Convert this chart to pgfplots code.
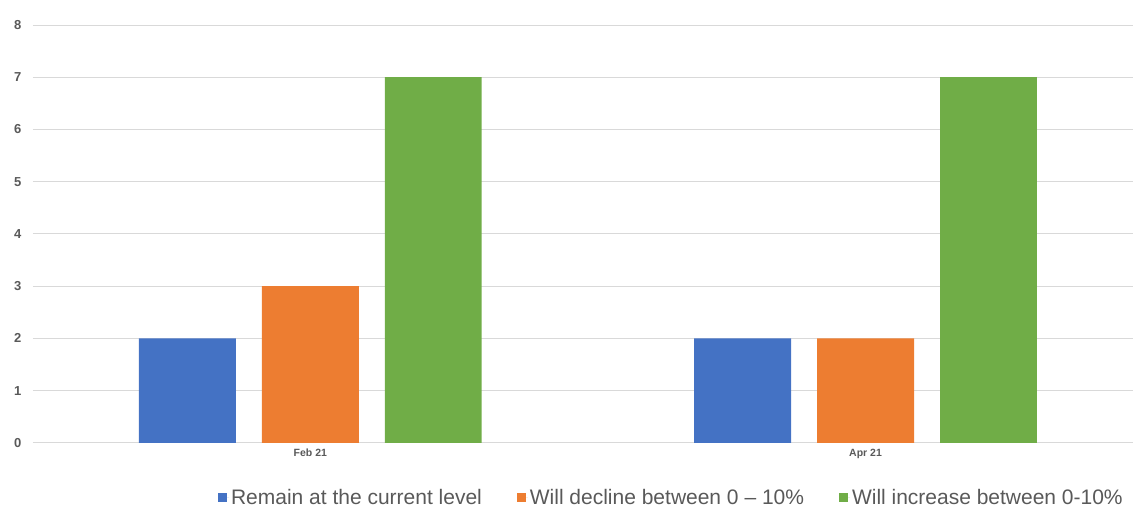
\documentclass[border=0pt]{standalone}
\usepackage{pgfplots}
\pgfplotsset{compat=1.18}
\usepackage{fontspec}
\setmainfont{Liberation Sans}
\definecolor{cblue}{HTML}{4472C4}
\definecolor{corange}{HTML}{ED7D31}
\definecolor{cgreen}{HTML}{70AD47}
\definecolor{cgrid}{HTML}{D9D9D9}
\definecolor{ctext}{HTML}{595959}
\begin{document}
\begin{tikzpicture}
\begin{axis}[
  scale only axis,
  width=1101pt, height=418pt,
  xmin=-0.4995, xmax=1.4824,
  ymin=0, ymax=8,
  ytick={0,1,...,8},
  xtick={0,1},
  xticklabels={Feb 21, Apr 21},
  ymajorgrids,
  grid style={cgrid, line width=0.8pt},
  axis line style={draw=none},
  major tick length=0pt,
  /pgf/number format/assume math mode=true,
  yticklabel style={font=\fontsize{13}{15}\selectfont\bfseries, text=ctext, xshift=-8pt},
  xticklabel style={font=\fontsize{10.5}{12}\selectfont\bfseries, text=ctext, yshift=-3pt},
  clip=false,
  legend style={at={(0.995,-0.132)}, anchor=east, draw=none, fill=none,
    legend columns=3, font=\fontsize{21}{24}\selectfont, text=ctext,
    /tikz/every even column/.append style={column sep=33pt}},
  legend image code/.code={\path (0pt,0pt) -- (11pt,0pt);\fill[#1] (0pt,-4.5pt) rectangle (9pt,4.5pt);},
  legend cell align=left,
]
\draw[cgrid, line width=1.2pt] (rel axis cs:0,0) -- (rel axis cs:1,0);
\addplot[ybar, bar width=0.1746, bar shift=-0.2214, fill=cblue, draw=none] coordinates {(0,2) (1,2)};
\addplot[ybar, bar width=0.1746, bar shift=0, fill=corange, draw=none] coordinates {(0,3) (1,2)};
\addplot[ybar, bar width=0.1746, bar shift=0.2214, fill=cgreen, draw=none] coordinates {(0,7) (1,7)};
\legend{Remain at the current level, Will decline between 0 -- 10\%, Will increase between 0-10\%}
\path (rel axis cs:0,0) ++(-33pt,-65pt) coordinate (bl);
\path (rel axis cs:1,1) ++(0pt,25pt) coordinate (tr);
\end{axis}
\useasboundingbox (bl) rectangle (tr);
\end{tikzpicture}
\end{document}
